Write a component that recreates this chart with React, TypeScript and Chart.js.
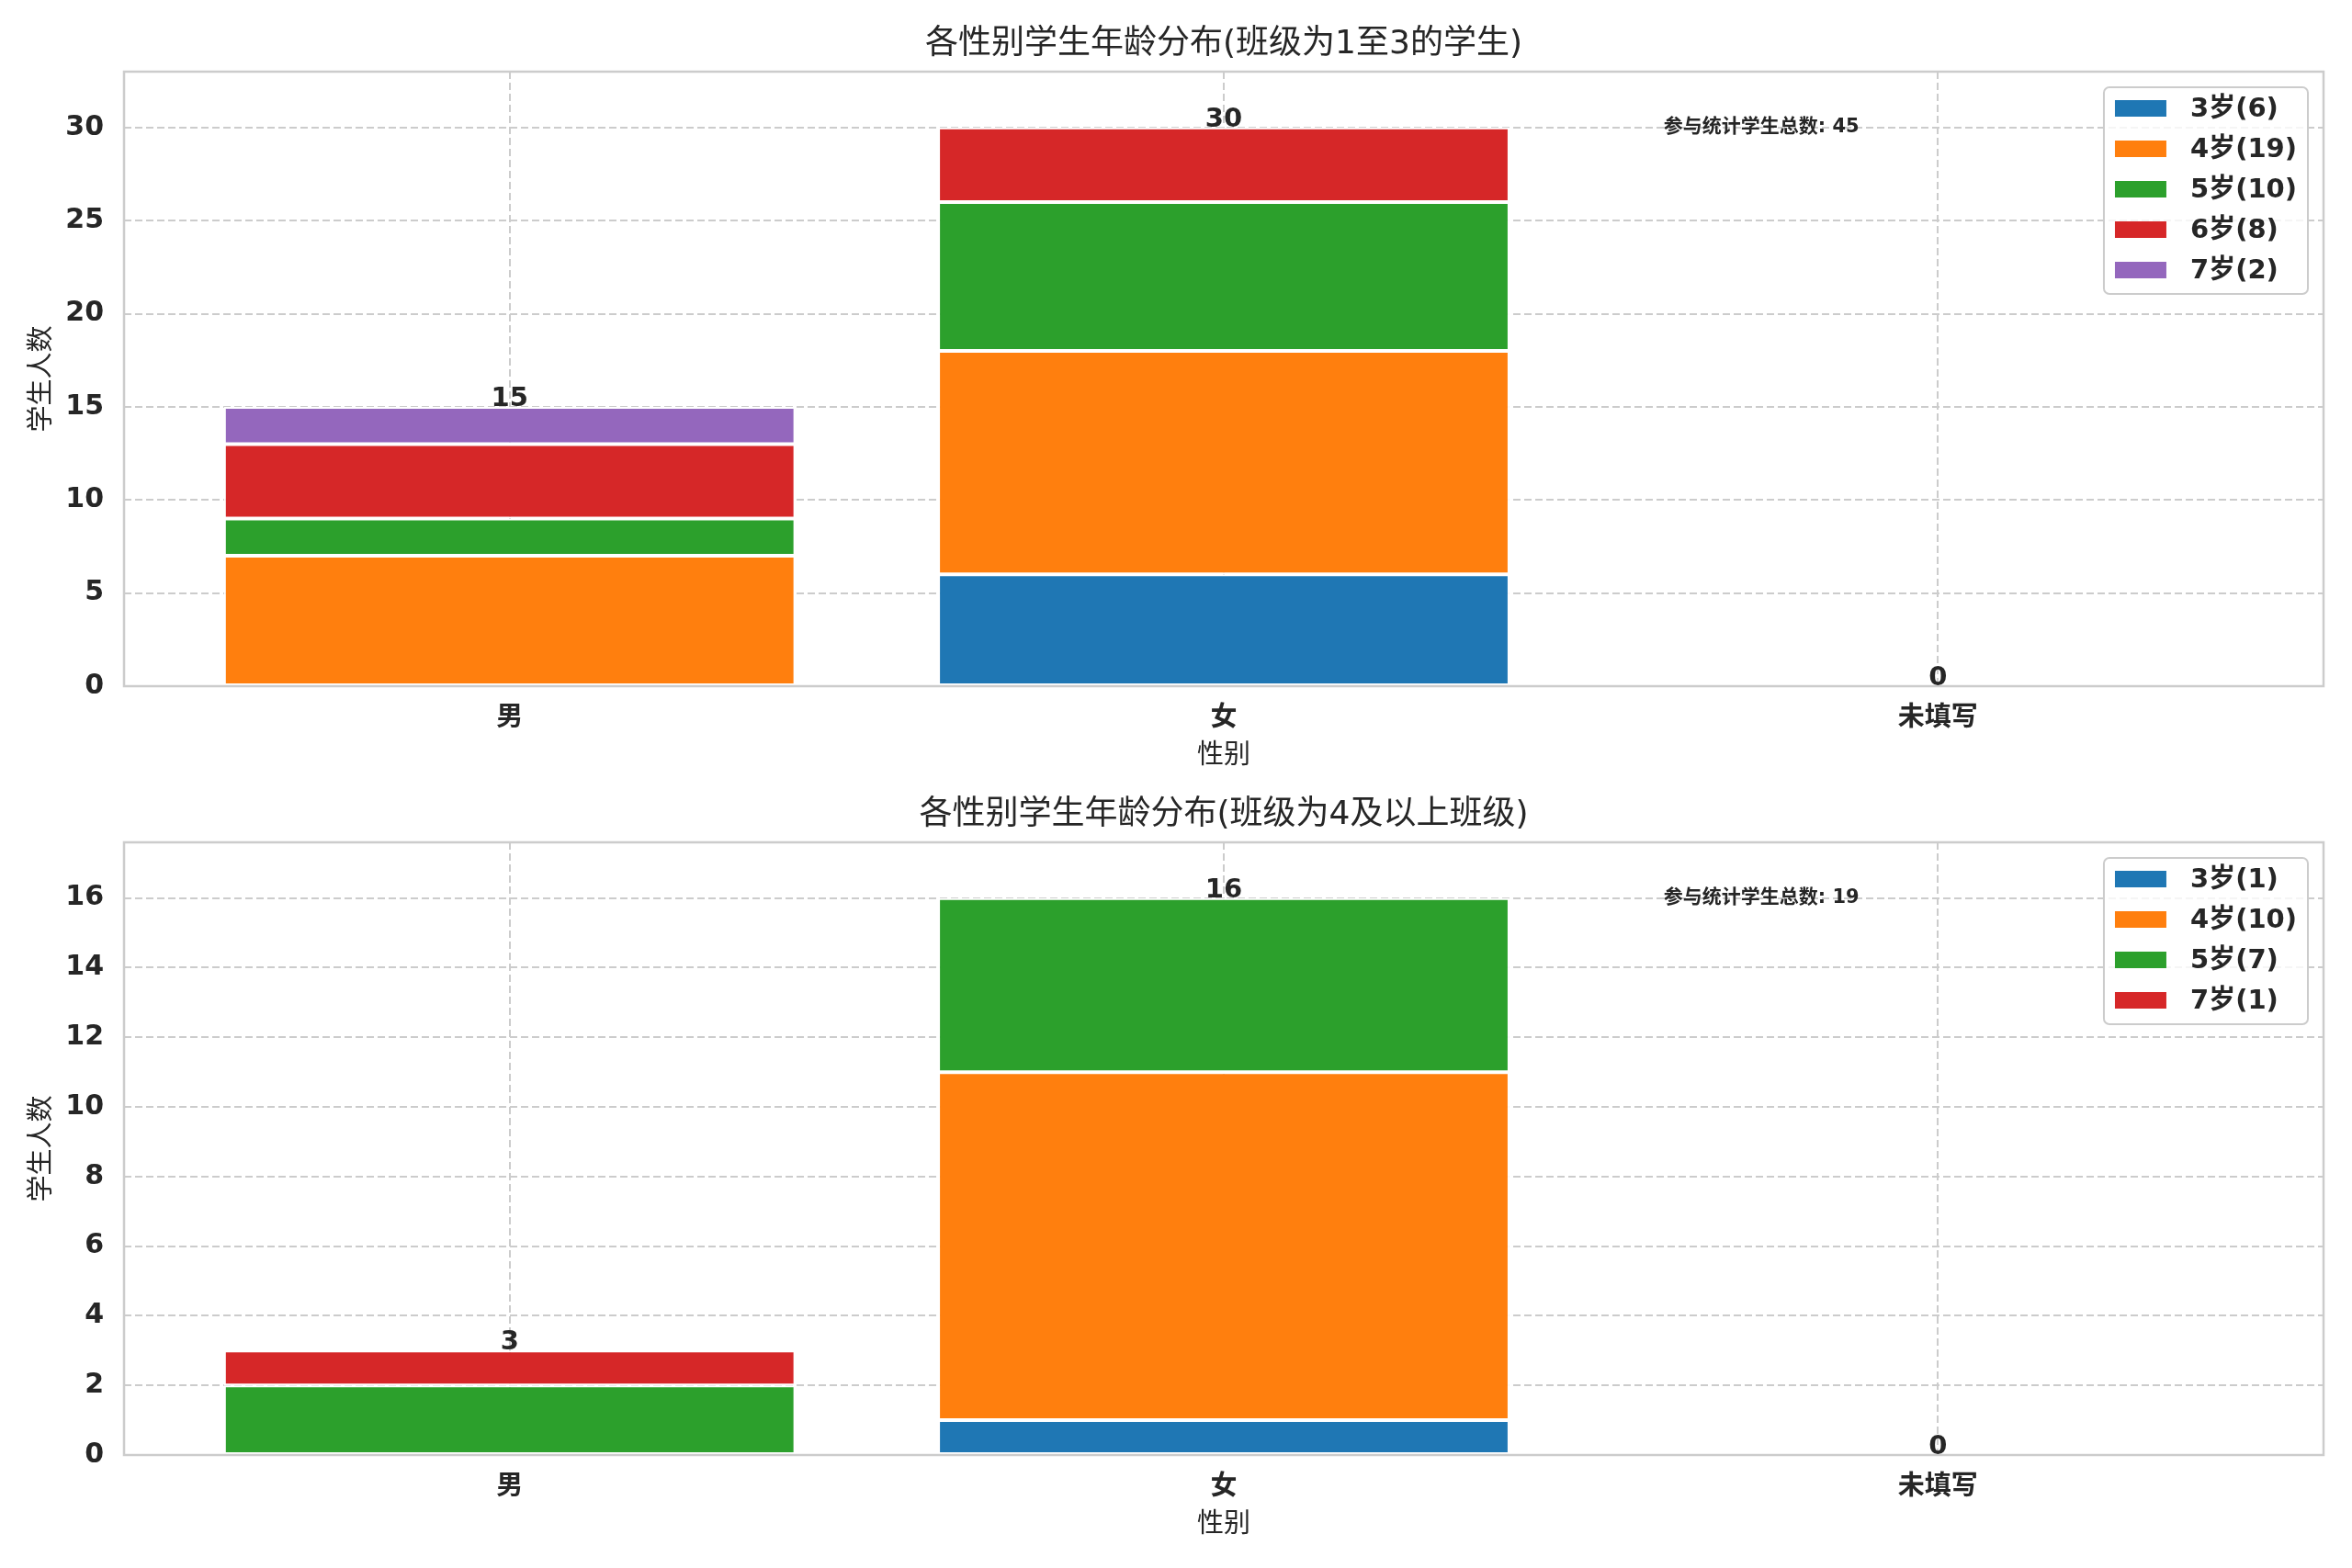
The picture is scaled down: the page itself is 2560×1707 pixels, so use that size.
import React, { useEffect, useRef } from 'react';
import { Chart, registerables } from 'chart.js';

Chart.register(...registerables);

const FONT = '"DejaVu Sans", "Noto Sans CJK SC", sans-serif';
const INK = '#262626';
const GRID = '#cccccc';

// 类别 (x 轴)
const categories = ['男', '女', '未填写'];
const xLabel = '性别';
const yLabel = '学生人数';
const totalLabel = '参与统计学生总数';
const palette = ['#1f77b4', '#ff7f0e', '#2ca02c', '#d62728', '#9467bd'];

// 上图：班级 1-3
const topTitle = '各性别学生年龄分布(班级为1至3的学生)';
const topAges = ['3岁', '4岁', '5岁', '6岁', '7岁'];
const topAge3 = [0, 6, 0];
const topAge4 = [7, 12, 0];
const topAge5 = [2, 8, 0];
const topAge6 = [4, 4, 0];
const topAge7 = [2, 0, 0];
const topYTicks = [0, 5, 10, 15, 20, 25, 30];

// 下图：班级 4 及以上
const bottomTitle = '各性别学生年龄分布(班级为4及以上班级)';
const bottomAges = ['3岁', '4岁', '5岁', '7岁'];
const bottomAge3 = [0, 1, 0];
const bottomAge4 = [0, 10, 0];
const bottomAge5 = [2, 5, 0];
const bottomAge7 = [1, 0, 0];
const bottomYTicks = [0, 2, 4, 6, 8, 10, 12, 14, 16];

interface PanelProps {
  title: string;
  labels: string[];
  values: number[][];
  yTicks: number[];
  areaTop: number;
  xAxisHeight: number;
  height: number;
}

const Panel: React.FC<PanelProps> = ({ title, labels, values, yTicks, areaTop, xAxisHeight, height }) => {
  const canvasRef = useRef<HTMLCanvasElement>(null);
  const chartRef = useRef<Chart | null>(null);

  useEffect(() => {
    if (!canvasRef.current) return;
    const ctx = canvasRef.current.getContext('2d');
    if (!ctx) return;

    const totals = categories.map((_, i) => values.reduce((s, v) => s + v[i], 0));
    const maxTotal = Math.max(...totals);
    const grand = totals.reduce((a, b) => a + b, 0);

    const decorPlugin = {
      id: 'decor',
      afterDatasetsDraw(chart: any) {
        const c = chart.ctx;
        const { left, right, top, bottom } = chart.chartArea;
        const xs = chart.scales.x;
        const ys = chart.scales.y;
        c.save();

        // 外框
        c.strokeStyle = GRID;
        c.lineWidth = 2.5;
        c.strokeRect(left, top, right - left, bottom - top);

        // 总数标签
        c.fillStyle = INK;
        c.font = `bold 29px ${FONT}`;
        c.textAlign = 'center';
        c.textBaseline = 'alphabetic';
        totals.forEach((t, i) => {
          c.fillText(String(t), xs.getPixelForValue(i), ys.getPixelForValue(t) - 1);
        });

        // 总人数注释
        c.font = `bold 21px ${FONT}`;
        c.textAlign = 'left';
        c.textBaseline = 'middle';
        c.fillText(`${totalLabel}: ${grand}`, left + 0.7 * (right - left), ys.getPixelForValue(maxTotal));

        // 标题与轴标题
        const cx = (left + right) / 2;
        c.font = `36px ${FONT}`;
        c.textAlign = 'center';
        c.textBaseline = 'middle';
        c.fillText(title, cx, top - 29);
        c.font = `29px ${FONT}`;
        c.fillText(xLabel, cx, bottom + 76);
        c.save();
        c.translate(46, (top + bottom) / 2);
        c.rotate(-Math.PI / 2);
        c.fillText(yLabel, 0, 0);
        c.restore();

        // 图例
        const ds = chart.data.datasets;
        c.font = `bold 29px ${FONT}`;
        const texts = ds.map((d: any) => `${d.label}(${d.data.reduce((s: number, p: any) => s + p.y, 0)})`);
        const tw = Math.max(...texts.map((t: string) => c.measureText(t).width));
        const boxW = 94 + tw + 12;
        const boxH = 23 + (ds.length - 1) * 44 + 26;
        const boxR = right - 17;
        const boxT = top + 17;
        const boxL = boxR - boxW;
        c.beginPath();
        c.roundRect(boxL, boxT, boxW, boxH, 6);
        c.fillStyle = 'rgba(255,255,255,0.8)';
        c.fill();
        c.strokeStyle = GRID;
        c.lineWidth = 2;
        c.stroke();
        c.textAlign = 'left';
        c.textBaseline = 'middle';
        ds.forEach((d: any, i: number) => {
          const y = boxT + 23 + i * 44;
          c.fillStyle = d.backgroundColor;
          c.fillRect(boxL + 12, y - 9, 56, 18);
          c.fillStyle = INK;
          c.fillText(texts[i], boxL + 94, y + 1);
        });

        c.restore();
      },
    };

    chartRef.current = new Chart(ctx, {
      type: 'bar',
      data: {
        datasets: labels.map((label, k) => ({
          label,
          data: values[k].map((v, i) => ({ x: i, y: v })),
          backgroundColor: palette[k],
          borderColor: '#ffffff',
          borderWidth: 2,
          borderSkipped: false,
          categoryPercentage: 1,
          barPercentage: 0.8,
        })),
      },
      options: {
        animation: false,
        responsive: false,
        maintainAspectRatio: false,
        devicePixelRatio: 1,
        layout: { padding: { top: areaTop, right: 31, left: 0, bottom: 0 } },
        plugins: {
          legend: { display: false },
          title: { display: false },
          tooltip: { enabled: false },
        },
        scales: {
          x: {
            type: 'linear',
            min: -0.54,
            max: 2.54,
            offset: false,
            stacked: true,
            afterBuildTicks: (s: any) => {
              s.ticks = categories.map((_, i) => ({ value: i }));
            },
            afterFit: (s: any) => {
              s.height = xAxisHeight;
            },
            ticks: {
              callback: (v: any) => categories[v] ?? '',
              font: { family: FONT, size: 29, weight: 'bold' },
              color: INK,
              padding: 18,
              maxRotation: 0,
              autoSkip: false,
            },
            grid: { color: GRID, lineWidth: 2, drawTicks: false, offset: false },
            border: { display: false, dash: [8, 4] },
          },
          y: {
            min: 0,
            max: maxTotal * 1.1,
            stacked: true,
            afterBuildTicks: (s: any) => {
              s.ticks = yTicks.map((v) => ({ value: v }));
            },
            afterFit: (s: any) => {
              s.width = 135;
            },
            ticks: {
              font: { family: FONT, size: 30, weight: 'bold' },
              color: INK,
              padding: 22,
            },
            grid: { color: GRID, lineWidth: 2, drawTicks: false },
            border: { display: false, dash: [8, 4] },
          },
        },
      } as any,
      plugins: [decorPlugin],
    });

    return () => {
      if (chartRef.current) {
        chartRef.current.destroy();
        chartRef.current = null;
      }
    };
  }, [title, labels, values, yTicks, areaTop, xAxisHeight, height]);

  return (
    <canvas
      ref={canvasRef}
      width={2560}
      height={height}
      style={{ display: 'block', width: 2560, height }}
    ></canvas>
  );
};

const topValues = [topAge3, topAge4, topAge5, topAge6, topAge7];
const bottomValues = [bottomAge3, bottomAge4, bottomAge5, bottomAge7];

export default function App() {
  return (
    <div style={{ position: 'fixed', left: 0, top: 0, width: 2560, height: 1707, background: '#ffffff' }}>
      <Panel
        title={topTitle}
        labels={topAges}
        values={topValues}
        yTicks={topYTicks}
        areaTop={78}
        xAxisHeight={106}
        height={853}
      />
      <Panel
        title={bottomTitle}
        labels={bottomAges}
        values={bottomValues}
        yTicks={bottomYTicks}
        areaTop={64}
        xAxisHeight={123}
        height={854}
      />
    </div>
  );
}
